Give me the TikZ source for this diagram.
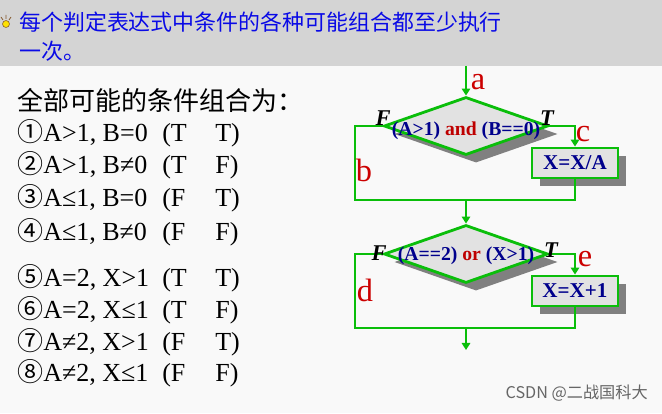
\documentclass[tikz,border=0pt]{standalone}
\usepackage{fontspec}
\setmainfont{Liberation Serif}
\newfontfamily\cjk{Noto Sans CJK SC}
\usetikzlibrary{arrows.meta,positioning,shapes.geometric,shadows,calc}
\definecolor{bgcol}{RGB}{249,249,249}
\definecolor{bandgray}{RGB}{212,212,212}
\definecolor{headblue}{RGB}{10,10,230}
\definecolor{flowgreen}{RGB}{10,190,10}
\definecolor{boxblue}{RGB}{0,0,140}
\definecolor{andred}{RGB}{190,0,0}
\definecolor{labred}{RGB}{204,0,0}
\definecolor{marble}{RGB}{226,226,226}
\definecolor{shadowgray}{RGB}{128,128,128}
\tikzset{
    headtext/.style={anchor=west, inner sep=0pt, text=headblue,
        font=\cjk\fontsize{15.6}{19}\selectfont},
    listtext/.style={anchor=west, inner sep=0pt, text=black,
        font=\fontsize{18.5}{22}\selectfont},
    cond/.style={diamond, draw=flowgreen, line width=2pt, fill=marble,
        minimum width=4.1cm, minimum height=1.45cm, inner sep=0pt,
        drop shadow={shadow xshift=0.25cm, shadow yshift=-0.2cm,
            fill=shadowgray, opacity=1}},
    condtext/.style={inner sep=0pt, text=boxblue,
        font=\bfseries\fontsize{14}{16}\selectfont},
    procbox/.style={draw=flowgreen, line width=2pt, fill=marble,
        minimum width=2.15cm, minimum height=0.75cm, inner sep=0pt,
        text=boxblue, font=\bfseries\fontsize{15}{17}\selectfont,
        drop shadow={shadow xshift=0.2cm, shadow yshift=-0.2cm,
            fill=shadowgray, opacity=1}},
    branchlabel/.style={inner sep=0pt, font=\bfseries\itshape\fontsize{16}{18}\selectfont},
    seglabel/.style={inner sep=0pt, text=labred, font=\fontsize{23}{25}\selectfont},
    flowline/.style={draw=flowgreen, line width=2pt},
    flowarrow/.style={flowline, -{Triangle[length=5pt,width=6pt]}}
}
\newcommand{\combo}[4]{{\cjk #1}\makebox[2.975cm][l]{#2}\makebox[1.325cm][l]{(#3}#4)}

\begin{document}
\begin{tikzpicture}[x=0.025cm, y=-0.025cm]
\useasboundingbox (0,0) rectangle (662,413);
\fill[bgcol] (0,0) rectangle (662,413);
\fill[bandgray] (0,0) rectangle (662,66);
% bulb
\fill[yellow!85!orange, draw=brown!70!black, line width=0.4pt] (6,24) circle (3.5);
\draw[brown!70!black, line width=0.5pt] (1,17) -- (3,20) (11,17) -- (9,20) (6,15) -- (6,19);

% heading
\node[headtext] (head1) at (19,22) {每个判定表达式中条件的各种可能组合都至少执行};
\node[headtext] (head2) at (19,51) {一次。};

% combinations
\node[listtext, font=\cjk\fontsize{18.5}{22}\selectfont] (all) at (17,100) {全部可能的条件组合为：};
\node[listtext] (c1) at (17,133) {\combo{①}{A>1, B=0}{T}{T}};
\node[listtext] (c2) at (17,165) {\combo{②}{A>1, B≠0}{T}{F}};
\node[listtext] (c3) at (17,198) {\combo{③}{A≤1, B=0}{F}{T}};
\node[listtext] (c4) at (17,232) {\combo{④}{A≤1, B≠0}{F}{F}};
\node[listtext] (c5) at (17,278) {\combo{⑤}{A=2, X>1}{T}{T}};
\node[listtext] (c6) at (17,310) {\combo{⑥}{A=2, X≤1}{T}{F}};
\node[listtext] (c7) at (17,342) {\combo{⑦}{A≠2, X>1}{F}{T}};
\node[listtext] (c8) at (17,373) {\combo{⑧}{A≠2, X≤1}{F}{F}};

% flowchart
\coordinate (entry) at (466,66);
\node[cond] (d1) at (466,126) {};
\node[condtext] (t1) at (466,131) {(A>1) {\color{andred}and} (B==0)};
\node[procbox] (boxc) at (575,163) {X=X/A};
\coordinate (j1l) at (355,200);
\coordinate (j1) at (466,200);
\coordinate (j1r) at (575,200);
\node[cond] (d2) at (466,254) {};
\node[condtext] (t2) at (466,256) {(A==2) {\color{andred}or} (X>1)};
\node[procbox] (boxe) at (575,291) {X=X+1};
\coordinate (j2l) at (355,328);
\coordinate (j2) at (466,328);
\coordinate (j2r) at (575,328);
\coordinate (exit) at (466,350);

\draw[flowarrow] (entry) -- (d1.north);
\draw[flowarrow] (d1.east) -| (boxc.north);
\draw[flowline] (d1.west) -| (j1l) -- (j1r) -- (boxc.south);
\draw[flowarrow] (j1) -- (d2.north);
\draw[flowarrow] (d2.east) -| (boxe.north);
\draw[flowline] (d2.west) -| (j2l) -- (j2r) -- (boxe.south);
\draw[flowarrow] (j2) -- (exit);

\node[branchlabel] (f1) at (383,118) {F};
\node[branchlabel] (tt1) at (547,118) {T};
\node[branchlabel] (f2) at (379,253) {F};
\node[branchlabel] (tt2) at (551,250) {T};

\node[seglabel] (la) at (478,82) {a};
\node[seglabel] (lb) at (364,170) {b};
\node[seglabel] (lc) at (583,134) {c};
\node[seglabel] (ld) at (365,290) {d};
\node[seglabel] (le) at (585,259) {e};

% watermark
\node[anchor=east, inner sep=0pt, text=black!60, font=\cjk\fontsize{11.5}{13}\selectfont] (wm) at (648,393) {CSDN @二战国科大};
\end{tikzpicture}
\end{document}
